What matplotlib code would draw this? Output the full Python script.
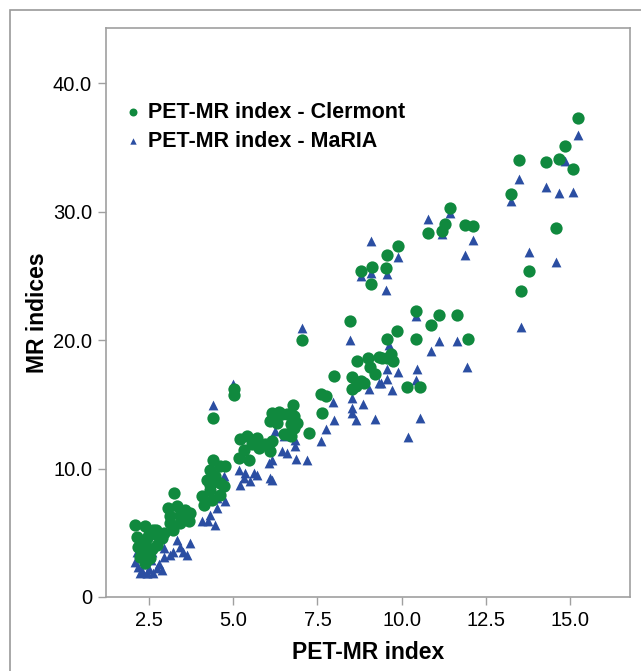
import matplotlib
matplotlib.use("Agg")
import matplotlib.pyplot as plt
from matplotlib.patches import Rectangle

# values
clermont_x = [15.23, 14.85, 13.48, 14.29, 14.66, 15.08, 13.26, 14.59, 13.79, 13.54,
              11.44, 11.29, 11.19, 10.79, 11.88, 12.13, 9.90, 9.57, 9.11, 9.53, 8.78, 9.08,
              10.42, 11.11, 11.64, 10.86, 9.87, 9.55, 10.42, 11.96, 9.67, 9.57, 9.75, 9.43, 10.17, 10.54,
              8.48, 7.04, 8.66, 9.00, 9.32, 7.99, 8.53, 8.78, 9.06, 9.20, 8.53, 8.63, 7.59, 7.74,
              6.78, 6.45, 6.79, 7.64, 6.79, 6.70, 7.24, 6.50, 8.88,
              5.01, 5.01, 4.40, 6.15, 6.35, 6.60, 6.10, 6.30, 6.70, 6.90, 6.60, 5.21, 5.41, 5.71,
              5.31, 5.56, 5.75, 5.95, 6.10, 5.16, 5.46, 6.15, 4.41, 4.61, 4.32, 4.76, 4.46, 4.22,
              4.61, 4.32, 4.71,
              3.24, 3.07, 3.32, 3.57, 3.13, 3.42, 3.72, 3.13, 3.42, 3.67, 3.22, 4.07, 4.32, 4.12,
              4.37, 4.61, 2.08, 2.38, 2.63, 2.13, 2.43, 2.73, 2.18, 2.48, 2.23, 2.53, 2.38, 2.73, 2.88,
              2.30, 2.50, 2.60, 2.35, 2.45, 2.70, 2.95]
clermont_y = [37.30, 35.10, 34.00, 33.85, 34.10, 33.30, 31.35, 28.70, 25.40, 23.80,
              30.30, 29.06, 28.50, 28.34, 28.93, 28.88, 27.32, 26.59, 25.68, 25.65, 25.37, 24.38,
              22.29, 21.98, 21.98, 21.17, 20.68, 20.08, 20.08, 20.08, 18.90, 18.57, 18.38, 18.57, 16.35, 16.35,
              21.46, 20.00, 18.34, 18.60, 18.70, 17.21, 17.13, 16.82, 17.87, 17.34, 16.17, 16.43, 15.78, 15.65,
              14.92, 14.22, 14.09, 14.35, 13.18, 12.52, 12.79, 12.66, 16.70,
              16.17, 15.70, 13.96, 14.35, 14.40, 14.22, 13.70, 13.57, 13.44, 13.57, 12.66, 12.27, 12.52, 12.40,
              11.48, 11.88, 11.62, 11.88, 11.35, 10.84, 10.70, 12.13, 10.70, 10.18, 9.92, 10.18, 9.40, 9.14,
              8.88, 8.75, 8.62,
              8.10, 6.93, 7.05, 6.80, 6.27, 6.41, 6.54, 5.76, 5.76, 5.88, 5.23, 7.84, 8.36, 7.19,
              7.58, 7.97, 5.63, 5.49, 5.23, 4.71, 4.59, 4.84, 3.93, 3.80, 3.15, 3.02, 2.63, 4.06, 4.59,
              4.20, 4.90, 3.70, 3.50, 2.90, 5.20, 5.00]

maria_x = [15.25, 14.85, 13.48, 14.29, 14.66, 15.08, 13.26, 13.79, 14.59, 13.54,
           11.44, 10.79, 11.19, 12.12, 11.87, 9.10, 9.90, 9.57, 8.78, 9.10, 9.53,
           10.42, 11.11, 11.64, 10.86, 9.62, 9.57, 9.89, 10.45, 9.55, 10.42, 9.38, 9.72, 11.93, 10.54, 10.19,
           7.04, 8.46, 9.32, 9.03, 8.53, 7.96, 8.86, 8.53, 8.53, 8.00, 8.63, 9.20, 7.74, 6.82, 6.82,
           7.61, 6.50, 7.20,
           4.99, 4.40, 6.25, 6.45, 6.60, 6.15, 6.85, 6.05, 5.16, 5.36, 5.60, 5.71, 5.31, 5.51, 5.21,
           6.10, 6.15, 4.71,
           2.13, 2.08, 2.18, 2.23, 2.43, 2.63, 2.73, 2.88, 2.93, 2.93, 3.32, 3.42, 3.22, 3.52, 3.72,
           3.62, 3.13, 4.07, 4.26, 4.46, 4.32, 4.76, 4.51, 4.51,
           2.30, 2.50, 2.35, 2.55, 2.45, 2.30, 2.60, 2.80]
maria_y = [36.00, 33.95, 32.55, 31.95, 31.45, 31.50, 30.85, 26.85, 26.10, 21.00,
           29.90, 29.40, 28.23, 27.81, 26.66, 27.71, 26.46, 25.13, 25.02, 25.23, 23.93,
           21.90, 19.90, 19.90, 19.16, 19.60, 17.73, 17.55, 17.73, 16.95, 16.88, 16.64, 16.09, 17.87, 13.96, 12.48,
           20.91, 20.02, 16.70, 16.17, 15.52, 15.18, 15.00, 14.74, 14.35, 13.77, 13.77, 13.88, 13.05, 12.21, 11.74,
           12.13, 12.52, 10.65,
           16.56, 14.95, 12.91, 11.35, 11.23, 10.70, 10.76, 10.45, 9.92, 9.66, 9.66, 9.53, 9.27, 9.00, 8.75,
           9.27, 9.14, 9.40,
           3.54, 2.76, 2.37, 1.85, 1.85, 1.85, 2.24, 2.11, 3.80, 3.15, 4.45, 3.93, 3.54, 3.54, 4.20,
           3.28, 3.28, 5.88, 5.88, 5.63, 6.41, 7.45, 6.93, 7.71,
           2.00, 2.20, 2.60, 2.90, 1.90, 3.30, 3.50, 2.60]

x_ticks = [2.5, 5.0, 7.5, 10.0, 12.5, 15.0]
y_ticks = [0, 10, 20, 30, 40]
y_tick_labels = ["0", "10.0", "20.0", "30.0", "40.0"]

green = "#10893e"
blue = "#2b4ea2"
frame_grey = "#a0a0a0"

plt.rcParams['font.family'] = ['Liberation Sans', 'DejaVu Sans']

fig = plt.figure(figsize=(6.41, 6.71), dpi=100)
ax = fig.add_axes([106 / 641, 1 - 597 / 671, 524 / 641, 569 / 671])

ax.scatter(maria_x, maria_y, marker="^", s=50, color=blue, linewidths=0,
           label="PET-MR index - MaRIA", zorder=2)
ax.scatter(clermont_x, clermont_y, marker="o", s=78, color=green, linewidths=0,
           label="PET-MR index - Clermont", zorder=3)

ax.set_xlim(1.22, 16.78)
ax.set_ylim(0, 44.3)
ax.set_xticks(x_ticks)
ax.set_xticklabels(["%.1f" % v for v in x_ticks])
ax.set_yticks(y_ticks)
ax.set_yticklabels(y_tick_labels)
ax.tick_params(axis="both", direction="out", length=6, width=1, color=frame_grey,
               labelsize=14.5, pad=4)

for sp in ax.spines.values():
    sp.set_color(frame_grey)
    sp.set_linewidth(1.2)

ax.set_xlabel("PET-MR index", fontsize=16.5, fontweight="bold", labelpad=8)
ax.set_ylabel("MR indices", fontsize=16.5, fontweight="bold", labelpad=3)

handles, labels = ax.get_legend_handles_labels()
ax.legend(handles[::-1], labels[::-1], loc="upper left", bbox_to_anchor=(0.015, 0.885),
          frameon=False, prop={"weight": "bold", "size": 15.5},
          markerscale=0.65, handletextpad=0.2, labelspacing=0.35, borderaxespad=0,
          handlelength=1.0)

# outer frame of the figure
fig.patches.append(Rectangle((10 / 641, -0.1), 1.0, 1.1 - 9.5 / 671, transform=fig.transFigure,
                             fill=False, edgecolor="#9a9a9a", linewidth=1.2))

fig.savefig("out.png", dpi=100)
